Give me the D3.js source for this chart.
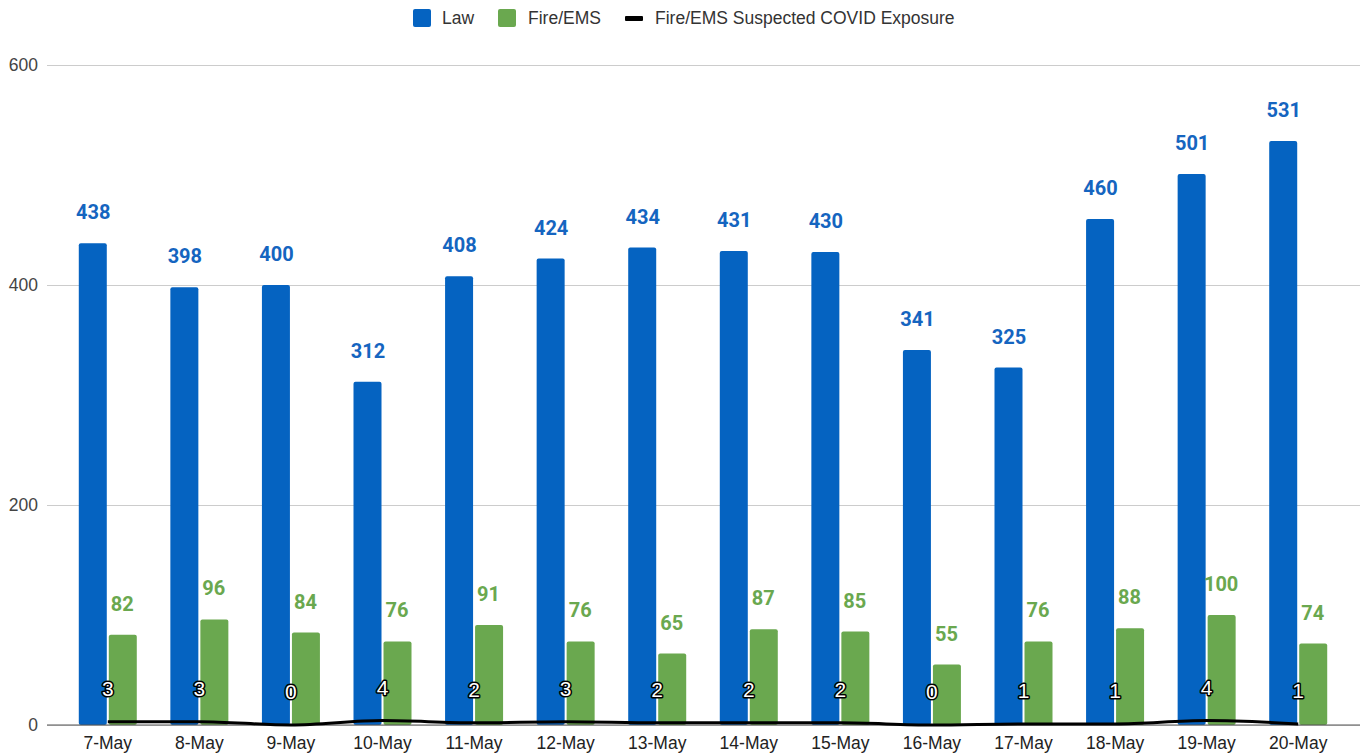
<!DOCTYPE html>
<html>
<head>
<meta charset="utf-8">
<script src="https://cdn.jsdelivr.net/npm/d3@7"></script>
<style>
  body { margin: 0; background: #fff; }
  svg { font-family: "Liberation Sans", Arial, sans-serif; }
  .num { font-family: Roboto, Arial, sans-serif; }
</style>
</head>
<body>
<div class="viz"></div>
<script>
const width = 1363;
const height = 755;

// values
const days = ["7-May", "8-May", "9-May", "10-May", "11-May", "12-May", "13-May",
  "14-May", "15-May", "16-May", "17-May", "18-May", "19-May", "20-May"];
const law = [438, 398, 400, 312, 408, 424, 434, 431, 430, 341, 325, 460, 501, 531];
const fireEms = [82, 96, 84, 76, 91, 76, 65, 87, 85, 55, 76, 88, 100, 74];
const covid = [3, 3, 0, 4, 2, 3, 2, 2, 2, 0, 1, 1, 4, 1];
const yTicks = [0, 200, 400, 600];

const lawColor = "#0563c1";
const fireColor = "#6aa84f";

const svg = d3.select(".viz").append("svg")
  .attr("width", width)
  .attr("height", height);

const x = d3.scaleBand().domain(days).range([62, 1344]);
const y = d3.scaleLinear().domain([0, 600]).range([725, 65]);
const groupWidth = 58;
const inner = d3.scaleBand().domain(["law", "fire"]).range([0, groupWidth]);
const center = d => x(d) + x.bandwidth() / 2;

// gridlines + y labels
const yAxis = svg.append("g")
  .attr("transform", "translate(47,0)")
  .call(d3.axisLeft(y).tickValues(yTicks).tickSize(-1313).tickPadding(9));
yAxis.select(".domain").remove();
yAxis.selectAll(".tick line").attr("stroke", "#ccc");
yAxis.selectAll(".tick text").attr("fill", "#444").attr("font-size", 17.5);

const rows = days.map((d, i) => ({ day: d, law: law[i], fire: fireEms[i], covid: covid[i] }));

const groups = svg.append("g").selectAll("g")
  .data(rows)
  .join("g")
  .attr("transform", d => `translate(${center(d.day) - groupWidth / 2},0)`);

groups.append("rect")
  .attr("x", inner("law"))
  .attr("y", d => y(d.law))
  .attr("width", inner.bandwidth() - 1)
  .attr("height", d => y(0) - y(d.law))
  .attr("rx", 2)
  .attr("fill", lawColor);

groups.append("rect")
  .attr("x", inner("fire") + 1)
  .attr("y", d => y(d.fire))
  .attr("width", inner.bandwidth() - 1)
  .attr("height", d => y(0) - y(d.fire))
  .attr("rx", 2)
  .attr("fill", fireColor);

groups.append("text")
  .attr("class", "num")
  .attr("x", inner("law") + inner.bandwidth() / 2)
  .attr("y", d => y(d.law) - 24)
  .attr("text-anchor", "middle")
  .attr("font-size", 20)
  .attr("font-weight", "bold")
  .attr("fill", "#1565c0")
  .text(d => d.law);

groups.append("text")
  .attr("class", "num")
  .attr("x", inner("fire") + inner.bandwidth() / 2)
  .attr("y", d => y(d.fire) - 24)
  .attr("text-anchor", "middle")
  .attr("font-size", 20)
  .attr("font-weight", "bold")
  .attr("fill", fireColor)
  .text(d => d.fire);

// baseline
svg.append("line")
  .attr("x1", 47).attr("x2", 1360)
  .attr("y1", y(0)).attr("y2", y(0))
  .attr("stroke", "#555");

// suspected exposure line
const line = d3.line()
  .x(d => center(d.day))
  .y(d => y(d.covid))
  .curve(d3.curveMonotoneX);

svg.append("path")
  .datum(rows)
  .attr("d", line)
  .attr("fill", "none")
  .attr("stroke", "#000")
  .attr("stroke-width", 3);

svg.append("g").selectAll("text")
  .data(rows)
  .join("text")
  .attr("x", d => center(d.day))
  .attr("y", d => y(d.covid) - 26)
  .attr("text-anchor", "middle")
  .attr("font-size", 21)
  .attr("fill", "#fff")
  .attr("stroke", "#000")
  .attr("stroke-width", 3)
  .attr("paint-order", "stroke")
  .attr("stroke-linejoin", "round")
  .text(d => d.covid);

// x labels
const xAxis = svg.append("g")
  .attr("transform", `translate(0,${y(0)})`)
  .call(d3.axisBottom(x).tickSize(0).tickPadding(12));
xAxis.select(".domain").remove();
xAxis.selectAll(".tick text").attr("fill", "#222").attr("font-size", 17.5);

// legend
const legend = svg.append("g").attr("font-size", 17.5).attr("fill", "#333");
legend.append("rect").attr("x", 413).attr("y", 9).attr("width", 18).attr("height", 18).attr("rx", 2).attr("fill", lawColor);
legend.append("text").attr("x", 442).attr("y", 24).text("Law");
legend.append("rect").attr("x", 498).attr("y", 9).attr("width", 18).attr("height", 18).attr("rx", 2).attr("fill", fireColor);
legend.append("text").attr("x", 528).attr("y", 24).text("Fire/EMS");
legend.append("rect").attr("x", 625).attr("y", 16).attr("width", 18).attr("height", 5).attr("rx", 1).attr("fill", "#000");
legend.append("text").attr("x", 655).attr("y", 24).text("Fire/EMS Suspected COVID Exposure");
</script>
</body>
</html>
